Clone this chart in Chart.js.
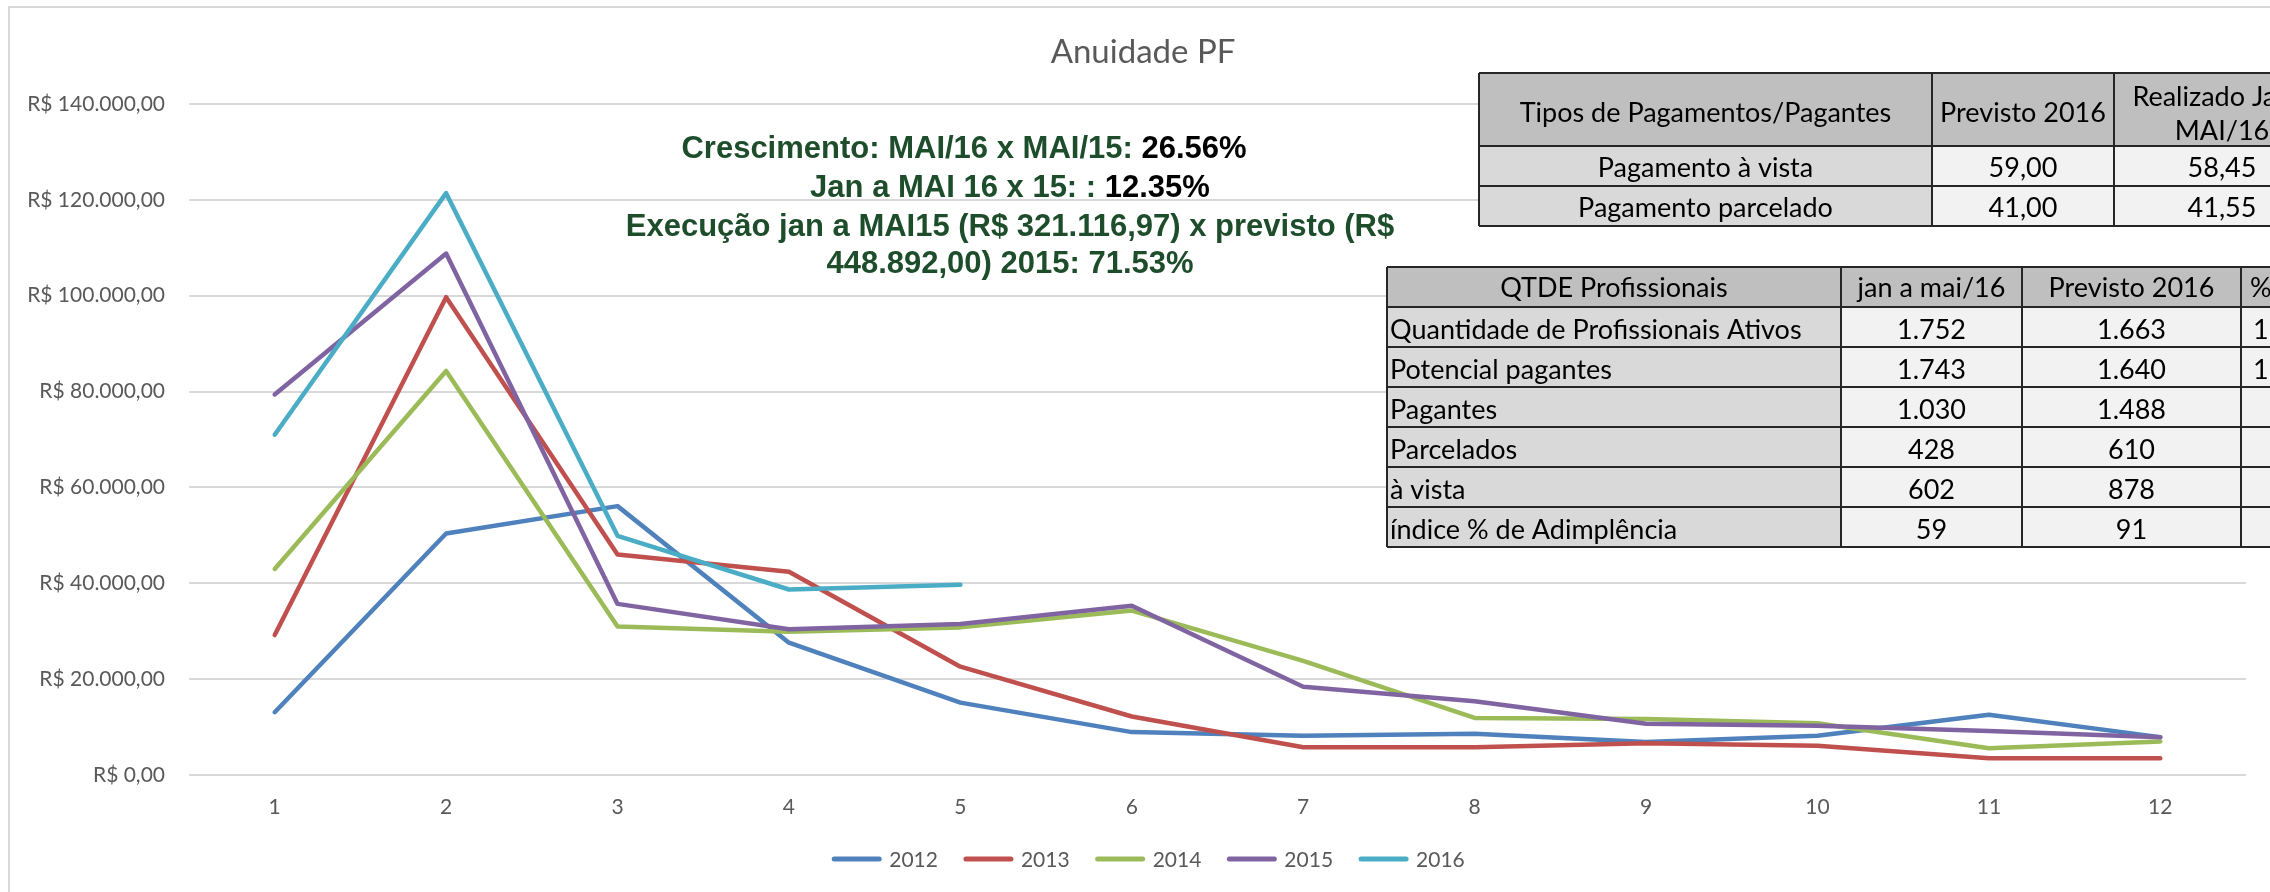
<!DOCTYPE html>
<html>
<head>
<meta charset="utf-8">
<title>Anuidade PF</title>
<script src="https://cdn.jsdelivr.net/npm/chart.js@4.4.1/dist/chart.umd.min.js"></script>
<style>
  html, body { margin: 0; padding: 0; background: #fff; }
  canvas { display: block; }
</style>
</head>
<body>
<canvas id="anuidadeChart" width="2270" height="892"></canvas>
<script>
// meses (eixo x) e arrecadacao mensal por ano
const meses = ['1', '2', '3', '4', '5', '6', '7', '8', '9', '10', '11', '12'];
const anos = ['2012', '2013', '2014', '2015', '2016'];
const anuidade2012 = [13100, 50400, 56100, 27600, 15100, 8950, 8200, 8600, 6900, 8200, 12550, 7900];
const anuidade2013 = [29200, 99700, 46000, 42400, 22600, 12200, 5800, 5800, 6600, 6100, 3500, 3500];
const anuidade2014 = [43000, 84300, 31000, 29900, 30800, 34300, 23800, 11900, 11700, 10800, 5600, 7000];
const anuidade2015 = [79400, 108800, 35700, 30400, 31500, 35300, 18400, 15400, 10700, 10300, 9200, 7900];
const anuidade2016 = [71000, 121400, 49900, 38700, 39700];
const cores = ['#4f81bd', '#c0504d', '#9bbb59', '#8064a2', '#4bacc6'];

// eixo y
const yMin = 0;
const yMax = 140000;
const yPasso = 20000;

// tabela de tipos de pagamento
const pagCabecalho = ['Tipos de Pagamentos/Pagantes', 'Previsto 2016', ['Realizado Jan a', 'MAI/16']];
const pagTipos = ['Pagamento à vista', 'Pagamento parcelado'];
const pagPrevisto = ['59,00', '41,00'];
const pagRealizado = ['58,45', '41,55'];

// tabela de quantidade de profissionais (ultima coluna cortada na borda)
const qtdeCabecalho = ['QTDE Profissionais', 'jan a mai/16', 'Previsto 2016', '%'];
const qtdeItens = ['Quantidade de Profissionais Ativos', 'Potencial pagantes', 'Pagantes', 'Parcelados', 'à vista', 'índice % de Adimplência'];
const qtdeRealizado = ['1.752', '1.743', '1.030', '428', '602', '59'];
const qtdePrevisto = ['1.663', '1.640', '1.488', '610', '878', '91'];
const qtdePercentual = ['1', '1', '', '', '', ''];

// texto de destaque
const destaque = [
  [['Crescimento: MAI/16 x MAI/15: ', 'verde'], ['26.56%', 'preto']],
  [['Jan a MAI 16 x 15: : ', 'verde'], ['12.35%', 'preto']],
  [['Execução jan a MAI15 (R$ 321.116,97) x previsto (R$', 'verde']],
  [['448.892,00) 2015: 71.53%', 'verde']]
];

const series = [anuidade2012, anuidade2013, anuidade2014, anuidade2015, anuidade2016];
const cinzaTexto = '#595959';

function formatReal(v) {
  const partes = Number(v).toFixed(2).split('.');
  const inteiro = partes[0].replace(/\B(?=(\d{3})+(?!\d))/g, '.');
  return 'R$ ' + inteiro + ',' + partes[1];
}

function desenhaTabela(ctx, xs, ys, cor) {
  for (let r = 0; r < ys.length - 1; r++) {
    for (let c = 0; c < xs.length - 1; c++) {
      ctx.fillStyle = cor(r, c);
      ctx.fillRect(xs[c], ys[r], xs[c + 1] - xs[c], ys[r + 1] - ys[r]);
    }
  }
  ctx.strokeStyle = '#262626';
  ctx.lineWidth = 2;
  ctx.beginPath();
  ys.forEach(y => { ctx.moveTo(xs[0], y); ctx.lineTo(xs[xs.length - 1], y); });
  xs.forEach(x => { ctx.moveTo(x, ys[0]); ctx.lineTo(x, ys[ys.length - 1]); });
  ctx.stroke();
}

const decoracao = {
  id: 'decoracao',
  afterDraw(chart) {
    const ctx = chart.ctx;
    ctx.save();

    // moldura do grafico
    ctx.strokeStyle = '#d9d9d9';
    ctx.lineWidth = 2;
    ctx.strokeRect(9, 7, 3000, 3000);

    // titulo
    ctx.fillStyle = cinzaTexto;
    ctx.font = '33px Lato';
    ctx.textAlign = 'center';
    ctx.textBaseline = 'alphabetic';
    ctx.fillText('Anuidade PF', 1143, 63);

    // texto de destaque
    ctx.font = 'bold 31px "Liberation Sans", Arial';
    ctx.textAlign = 'left';
    const centros = [964, 1010, 1010, 1010];
    const bases = [158, 197, 236, 273];
    destaque.forEach((linha, i) => {
      const larg = linha.reduce((s, p) => s + ctx.measureText(p[0]).width, 0);
      let x = centros[i] - larg / 2;
      linha.forEach(p => {
        ctx.fillStyle = p[1] === 'verde' ? '#1e4d2b' : '#000';
        ctx.fillText(p[0], x, bases[i]);
        x += ctx.measureText(p[0]).width;
      });
    });

    // tabela 1
    const t1x = [1479, 1932, 2114, 2330];
    const t1y = [73, 146, 186, 226];
    desenhaTabela(ctx, t1x, t1y, (r, c) => r === 0 ? '#bfbfbf' : (c === 0 ? '#d9d9d9' : '#f2f2f2'));
    ctx.fillStyle = '#000';
    ctx.font = '27px Lato';
    ctx.textAlign = 'center';
    const c1 = (t1x[0] + t1x[1]) / 2, c2 = (t1x[1] + t1x[2]) / 2, c3 = (t1x[2] + t1x[3]) / 2;
    ctx.fillText(pagCabecalho[0], c1, 122);
    ctx.fillText(pagCabecalho[1], c2, 122);
    ctx.fillText(pagCabecalho[2][0], c3, 106);
    ctx.fillText(pagCabecalho[2][1], c3, 140);
    pagTipos.forEach((t, i) => {
      const b = t1y[i + 2] - 9;
      ctx.fillText(t, c1, b);
      ctx.fillText(pagPrevisto[i], c2, b);
      ctx.fillText(pagRealizado[i], c3, b);
    });

    // tabela 2
    const t2x = [1387, 1841, 2022, 2241, 2420];
    const t2y = [267, 307, 347, 387, 427, 467, 507, 547];
    desenhaTabela(ctx, t2x, t2y, (r, c) => r === 0 ? '#bfbfbf' : (c === 0 ? '#d9d9d9' : '#f2f2f2'));
    ctx.fillStyle = '#000';
    const d1 = (t2x[0] + t2x[1]) / 2, d2 = (t2x[1] + t2x[2]) / 2, d3 = (t2x[2] + t2x[3]) / 2;
    ctx.textAlign = 'center';
    ctx.fillText(qtdeCabecalho[0], d1, 297);
    ctx.fillText(qtdeCabecalho[1], d2, 297);
    ctx.fillText(qtdeCabecalho[2], d3, 297);
    ctx.textAlign = 'left';
    ctx.fillText(qtdeCabecalho[3], 2250, 297);
    qtdeItens.forEach((t, i) => {
      const b = t2y[i + 2] - 8;
      ctx.textAlign = 'left';
      ctx.fillText(t, 1390, b);
      ctx.fillText(qtdePercentual[i], 2253, b);
      ctx.textAlign = 'center';
      ctx.fillText(qtdeRealizado[i], d2, b);
      ctx.fillText(qtdePrevisto[i], d3, b);
    });

    // legenda
    ctx.font = '21px Lato';
    ctx.textBaseline = 'middle';
    ctx.textAlign = 'left';
    const itens = chart.data.datasets.map(ds => ({ texto: ds.label, cor: ds.borderColor }));
    const largs = itens.map(it => 58 + ctx.measureText(it.texto).width);
    const total = largs.reduce((a, b) => a + b, 0) + 25 * (itens.length - 1);
    let lx = 1148 - total / 2;
    const ly = 859;
    itens.forEach((it, i) => {
      ctx.strokeStyle = it.cor;
      ctx.lineWidth = 5;
      ctx.lineCap = 'round';
      ctx.beginPath();
      ctx.moveTo(lx + 3, ly);
      ctx.lineTo(lx + 48, ly);
      ctx.stroke();
      ctx.fillStyle = cinzaTexto;
      ctx.fillText(it.texto, lx + 58, ly + 1);
      lx += largs[i] + 25;
    });

    ctx.restore();
  }
};

Chart.defaults.font.family = 'Lato';

const ctx = document.getElementById('anuidadeChart').getContext('2d');
new Chart(ctx, {
  type: 'line',
  data: {
    labels: meses,
    datasets: series.map((valores, i) => ({
      label: anos[i],
      data: valores,
      borderColor: cores[i],
      backgroundColor: cores[i],
      borderWidth: 4.5,
      borderCapStyle: 'round',
      borderJoinStyle: 'round',
      pointRadius: 0,
      tension: 0,
      fill: false,
      order: series.length - i // ultimo ano desenhado por cima
    }))
  },
  options: {
    responsive: false,
    animation: false,
    devicePixelRatio: 1,
    layout: {
      padding: { top: 104, left: 0, right: 24, bottom: 0 }
    },
    plugins: {
      legend: { display: false },
      title: { display: false },
      tooltip: { enabled: false }
    },
    scales: {
      x: {
        offset: true,
        grid: { display: false, drawTicks: false },
        border: { display: false },
        ticks: {
          color: cinzaTexto,
          font: { size: 21 },
          padding: 20,
          maxRotation: 0,
          autoSkip: false
        },
        afterFit: scale => { scale.height = 117; }
      },
      y: {
        min: yMin,
        max: yMax,
        grid: { color: '#d9d9d9', lineWidth: 2, drawTicks: false },
        border: { display: false },
        ticks: {
          stepSize: yPasso,
          color: cinzaTexto,
          font: { size: 21 },
          padding: 24,
          callback: function(value) {
            return formatReal(value);
          }
        },
        afterFit: scale => { scale.width = 189; }
      }
    }
  },
  plugins: [decoracao]
});
</script>
</body>
</html>
